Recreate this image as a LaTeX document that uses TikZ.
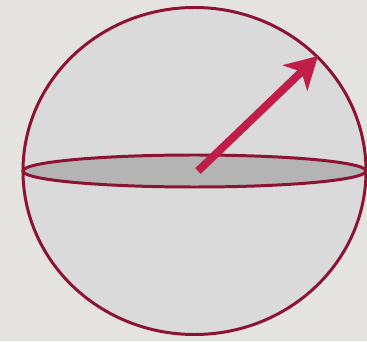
\documentclass[tikz,border=0pt]{standalone}
\usepackage{xcolor}
\usetikzlibrary{arrows.meta}

\definecolor{paper}{HTML}{E5E3E0}
\definecolor{ballgray}{HTML}{DADADA}
\definecolor{discgray}{HTML}{B4B4B4}
\definecolor{rim}{HTML}{8C1333}
\definecolor{radiusred}{HTML}{C01E48}

\begin{document}
\begin{tikzpicture}[
        x=0.02cm,
        y=0.02cm,
        ball/.style={
            draw=rim,
            fill=ballgray,
            line width=1.7pt
        },
        disc/.style={
            draw=rim,
            fill=discgray,
            line width=1.7pt
        },
        radiusarrow/.style={
            draw=radiusred,
            line width=4.5pt,
            -{Stealth[length=18pt,width=20pt,inset=5pt]}
        }
    ]
        % Page: 367 x 341 px
        \fill[paper] (0,0) rectangle (367,341);
        \useasboundingbox (0,0) rectangle (367,341);

        % Sphere and its equator, centre (194.5,170)
        \coordinate (centre) at (194.5,170);
        \draw[ball] (centre) ellipse [x radius=171.5, y radius=163.5];
        \draw[disc] (centre) ellipse [x radius=171.5, y radius=16];

        % Radius to the rim
        \coordinate (start) at (198,170);
        \coordinate (rimpoint) at (318,285);
        \draw[radiusarrow] (start) -- (rimpoint);
    \end{tikzpicture}
\end{document}
